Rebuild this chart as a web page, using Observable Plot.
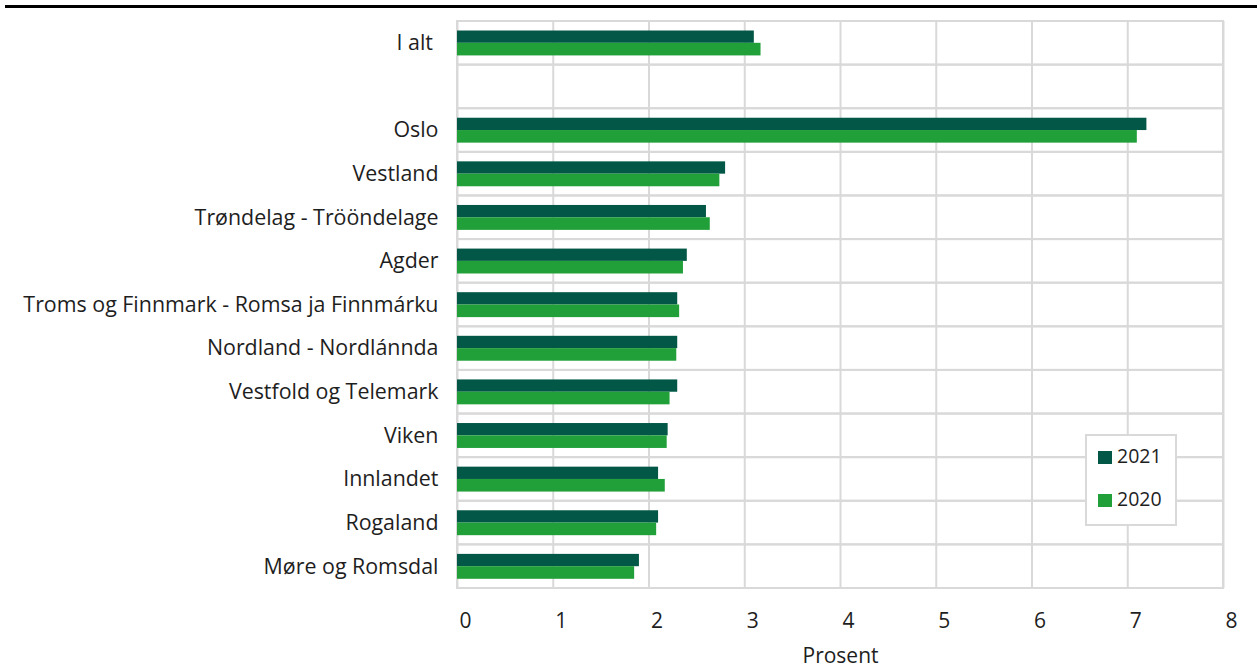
<!DOCTYPE html>
<html>
<head>
<meta charset="utf-8">
<script src="https://cdn.jsdelivr.net/npm/d3@7"></script>
<script src="https://cdn.jsdelivr.net/npm/@observablehq/plot@0.6"></script>
<style>
  html, body { margin: 0; padding: 0; background: #fff; }
  #wrap { position: relative; width: 1257px; height: 668px; font-family: 'Open Sans', sans-serif; color: #1e1e1e; }
  #topline { position: absolute; left: 5px; right: 0; top: 5px; height: 3px; background: #000; }
  #legend { position: absolute; left: 1085px; top: 434px; width: 88px; height: 88px; border: 2px solid #d9d9d9; background: #fff; box-sizing: content-box; font-size: 19.5px; line-height: 1; }
  #legend .sw { position: absolute; left: 11px; width: 14px; height: 13px; }
  #legend .lbl { position: absolute; left: 30px; }
</style>
</head>
<body>
<div id="wrap">
  <div id="chart"></div>
  <div id="topline"></div>
  <div id="legend"></div>
</div>
<script>
const categories = ["I alt ", "", "Oslo", "Vestland", "Trøndelag - Trööndelage", "Agder", "Troms og Finnmark - Romsa ja Finnmárku", "Nordland - Nordlánnda", "Vestfold og Telemark", "Viken", "Innlandet", "Rogaland", "Møre og Romsdal"];
const values2021 = [3.10, null, 7.20, 2.80, 2.60, 2.40, 2.30, 2.30, 2.30, 2.20, 2.10, 2.10, 1.90];
const values2020 = [3.17, null, 7.10, 2.74, 2.64, 2.36, 2.32, 2.29, 2.22, 2.19, 2.17, 2.08, 1.85];
const years = ["2021", "2020"];
const xTicks = [0, 1, 2, 3, 4, 5, 6, 7, 8];
const colors = {"2021": "#035746", "2020": "#21a03a"};

const rows = (vals, year) => categories.map((c, i) => ({region: c, value: vals[i], year})).filter(d => d.value != null);
const rows2021 = rows(values2021, "2021");
const rows2020 = rows(values2020, "2020");

const chart = Plot.plot({
  width: 1257,
  height: 668,
  marginLeft: 457,
  marginRight: 34,
  marginTop: 21,
  marginBottom: 80,
  style: {fontFamily: "'Open Sans', sans-serif", fontSize: "21px", color: "#1e1e1e", background: "white", overflow: "visible"},
  x: {domain: [0, 8]},
  y: {domain: categories, padding: 0, round: false},
  marks: [
    Plot.gridX(xTicks, {stroke: "#d9d9d9", strokeOpacity: 1, strokeWidth: 2}),
    Plot.barX(categories, {x1: 0, x2: 8, y: d => d, fill: "none", stroke: "#d9d9d9", strokeWidth: 2}),
    Plot.barX(rows2021, {x: "value", y: "region", fill: colors["2021"], insetTop: 9.5, insetBottom: 21.8}),
    Plot.barX(rows2020, {x: "value", y: "region", fill: colors["2020"], insetTop: 21.8, insetBottom: 9.2}),
    Plot.axisX(xTicks, {tickSize: 0, tickPadding: 25, dx: 8, fontSize: 21, label: "Prosent", labelAnchor: "center", labelOffset: 74, labelArrow: "none"}),
    Plot.axisY({tickSize: 0, tickPadding: 19, fontSize: 21.4, label: null, tickFormat: d => d.replace(/ $/, "\u00a0")})
  ]
});
document.getElementById("chart").appendChild(chart);

const legend = document.getElementById("legend");
years.forEach((y, i) => {
  const sw = document.createElement("span");
  sw.className = "sw";
  sw.style.background = colors[y];
  sw.style.top = (i === 0 ? 14.7 : 58) + "px";
  const t = document.createElement("span");
  t.className = "lbl";
  t.textContent = y;
  t.style.top = (i === 0 ? 9.6 : 52.9) + "px";
  legend.appendChild(sw);
  legend.appendChild(t);
});
</script>
</body>
</html>
